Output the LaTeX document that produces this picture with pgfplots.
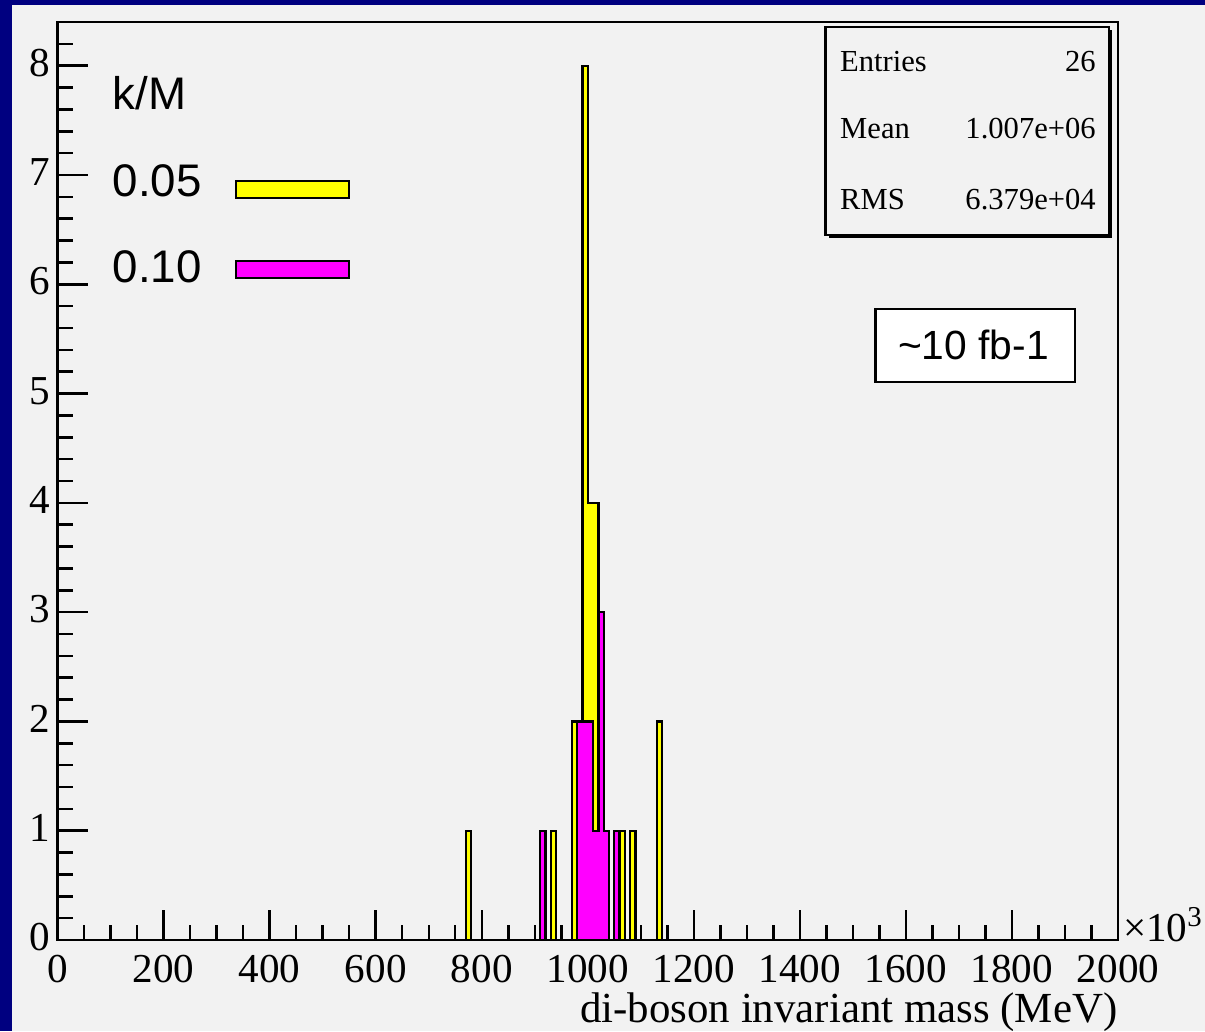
\documentclass[border=0pt]{standalone}
\usepackage{fontspec}
\setmainfont{Liberation Serif}
\newfontfamily\timesfont{Liberation Serif}
\newfontfamily\arial{Liberation Sans}
\usepackage{pgfplots}
\pgfplotsset{compat=1.18}

\definecolor{navyframe}{RGB}{0,0,128}
\definecolor{canvas}{RGB}{242,242,242}
\definecolor{hyellow}{RGB}{255,255,0}
\definecolor{hmagenta}{RGB}{255,0,255}

\begin{document}
\begin{tikzpicture}
% slide frame and canvas
\fill[navyframe] (0,0) rectangle (12.05cm,10.31cm);
\fill[canvas] (0.12cm,0) rectangle (12.05cm,10.26cm);

\begin{axis}[
    at={(0.576cm,0.91cm)}, anchor=south west,
    scale only axis,
    width=10.604cm, height=9.18cm,
    xmin=0, xmax=2000, ymin=0, ymax=8.4,
    xtick={0,200,...,2000},
    ytick={0,1,...,8},
    minor xtick={50,100,...,1950},
    minor ytick={0.2,0.4,...,8.2},
    tick align=inside,
    xtick pos=bottom, ytick pos=left,
    major tick length=0.3cm, minor tick length=0.15cm,
    tick style={black, line width=0.7pt},
    axis line style={line width=0.7pt},
    axis background/.style={fill=canvas},
    /pgf/number format/assume math mode=true,
    /pgf/number format/1000 sep={},
    scaled x ticks=false,
    xticklabel={\timesfont\pgfmathprintnumber{\tick}},
    yticklabel={\timesfont\pgfmathprintnumber{\tick}},
    ticklabel style={font=\timesfont\fontsize{11.7}{14}\selectfont},
    xticklabel style={inner ysep=0pt, yshift=-0.14cm},
    yticklabel style={inner xsep=2pt, yshift=0.8pt},
    xlabel={di-boson invariant mass (MeV)},
    xlabel style={font=\timesfont\fontsize{12.2}{14}\selectfont, at={(rel axis cs:1,0)},
        anchor=base east, yshift=-0.82cm, inner sep=0pt},
]
% k/M = 0.05 (bins of 10, left edges)
\addplot[const plot, fill=hyellow, draw=black, line width=0.65pt]
coordinates {
    (770,1) (780,0) (930,1) (940,0) (970,2) (980,0)
    (990,8) (1000,4) (1010,4) (1020,1) (1030,1) (1040,0)
    (1060,1) (1070,0) (1080,1) (1090,0) (1130,2) (1140,0)
} \closedcycle;
% k/M = 0.10
\addplot[const plot, fill=hmagenta, draw=black, line width=0.65pt]
coordinates {
    (910,1) (920,0) (980,2) (1010,1) (1020,3) (1030,1)
    (1040,0) (1050,1) (1060,0)
} \closedcycle;
\end{axis}

% annotations in pixel units of the reference
\begin{scope}[shift={(0,10.31cm)}, x=0.01cm, y=-0.01cm]
    % legend
    \node[anchor=base west, inner sep=0pt, font=\arial\fontsize{13}{15}\selectfont] at (112,110) {k/M};
    \node[anchor=base west, inner sep=0pt, font=\arial\fontsize{13}{15}\selectfont] at (112,197) {0.05};
    \node[anchor=base west, inner sep=0pt, font=\arial\fontsize{13}{15}\selectfont] at (112,283) {0.10};
    \draw[fill=hyellow, line width=0.5pt] (236,181) rectangle (349,198);
    \draw[fill=hmagenta, line width=0.5pt] (236,261) rectangle (349,278);

    % stats box
    \fill[black] (829,30) rectangle (1113,238);
    \draw[fill=canvas, line width=0.6pt] (826,27) rectangle (1110,235);
    \node[anchor=base west, inner sep=0pt, font=\timesfont\fontsize{8.7}{10}\selectfont] at (840,72) {Entries};
    \node[anchor=base east, inner sep=0pt, font=\timesfont\fontsize{8.7}{10}\selectfont] at (1097,72) {26};
    \node[anchor=base west, inner sep=0pt, font=\timesfont\fontsize{8.7}{10}\selectfont] at (840,139) {Mean};
    \node[anchor=base east, inner sep=0pt, font=\timesfont\fontsize{8.7}{10}\selectfont] at (1097,139) {1.007e+06};
    \node[anchor=base west, inner sep=0pt, font=\timesfont\fontsize{8.7}{10}\selectfont] at (840,210) {RMS};
    \node[anchor=base east, inner sep=0pt, font=\timesfont\fontsize{8.7}{10}\selectfont] at (1097,210) {6.379e+04};

    % luminosity box
    \draw[fill=white, line width=0.6pt] (876,309) rectangle (1076,382);
    \node[inner sep=0pt, font=\arial\fontsize{11.6}{14}\selectfont] at (974,345) {\textasciitilde 10 fb-1};

    % axis exponent
    \node[anchor=base west, inner sep=0pt, font=\timesfont\fontsize{11.7}{14}\selectfont] at (1123,942) {×10\textsuperscript{3}};
\end{scope}

\pgfresetboundingbox
\path[use as bounding box] (0,0) rectangle (12.05cm,10.31cm);
\end{tikzpicture}
\end{document}
